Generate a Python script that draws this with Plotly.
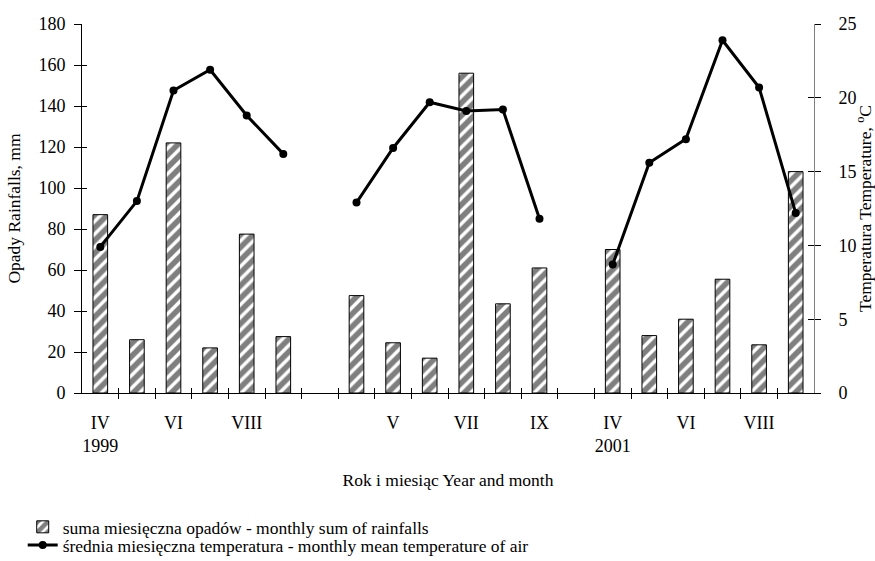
import plotly.graph_objects as go

# ---------------- data ----------------
months = ["IV", "V", "VI", "VII", "VIII", "IX"]
years = ["1999", "2000", "2001"]

rain_1999 = [87, 26, 122, 22, 77.5, 27.5]
rain_2000 = [47.5, 24.5, 17, 156, 43.5, 61]
rain_2001 = [70, 28, 36, 55.5, 23.5, 108]

temp_1999 = [9.9, 13.0, 20.5, 21.9, 18.8, 16.2]
temp_2000 = [12.9, 16.6, 19.7, 19.1, 19.2, 11.8]
temp_2001 = [8.7, 15.6, 17.2, 23.9, 20.7, 12.2]

rain_series = [rain_1999, rain_2000, rain_2001]
temp_series = [temp_1999, temp_2000, temp_2001]

bar_name = "suma miesięczna opadów - monthly sum of rainfalls"
line_name = "średnia miesięczna temperatura - monthly mean temperature of air"
x_title = "Rok i miesiąc Year and month"
y_title = "Opady Rainfalls, mm"
y2_title = "Temperatura Temperature, <sup>o</sup>C"

# ------------- build slots (one empty slot between years) -------------
slot_text, rain, temp = [], [], []
for yi, (yr, r, t) in enumerate(zip(years, rain_series, temp_series)):
    if yi > 0:
        slot_text.append("")
        rain.append(None)
        temp.append(None)
    for mi, (m, rv, tv) in enumerate(zip(months, r, t)):
        slot_text.append(m + ("<br>" + yr if mi == 0 else ""))
        rain.append(rv)
        temp.append(tv)

positions = list(range(len(slot_text)))
label_vals = positions[::2]
label_text = [slot_text[p] for p in label_vals]
boundaries = [p + 0.5 for p in positions[:-1]]
xrange = [-0.5, len(positions) - 0.5]

FONT = "Liberation Serif, Times New Roman, serif"
TITLE_FONT = dict(family=FONT, size=17.5, color="black")

fig = go.Figure()
fig.add_trace(go.Bar(
    x=positions, y=rain, width=0.4, name=bar_name, legend="legend",
    marker=dict(color="white",
                pattern=dict(shape="/", fgcolor="black", bgcolor="white",
                             size=9, solidity=0.62),
                line=dict(color="black", width=1)),
))
fig.add_trace(go.Scatter(
    x=positions, y=temp, yaxis="y2", name=line_name, mode="lines+markers",
    connectgaps=False, legend="legend2",
    line=dict(color="black", width=3),
    marker=dict(color="black", size=8),
))
# invisible helpers so that overlay axes (crossing tick marks) are drawn
fig.add_trace(go.Scatter(x=positions, y=rain, xaxis="x2", yaxis="y3",
                         mode="markers", marker=dict(opacity=0),
                         showlegend=False, hoverinfo="skip"))
fig.add_trace(go.Scatter(x=positions, y=temp, xaxis="x3", yaxis="y4",
                         mode="markers", marker=dict(opacity=0),
                         showlegend=False, hoverinfo="skip"))

legend_common = dict(xanchor="left", yanchor="middle", orientation="v",
                     bgcolor="rgba(0,0,0,0)",
                     font=dict(family=FONT, size=17.5, color="black"))

fig.update_layout(
    width=875, height=561,
    margin=dict(l=82, r=61, t=24, b=168, autoexpand=False),
    paper_bgcolor="white", plot_bgcolor="white",
    font=dict(family=FONT, size=17.5, color="black"),
    showlegend=True,
    legend=dict(x=-0.081, y=-0.363, **legend_common),
    legend2=dict(x=-0.081, y=-0.412, **legend_common),
    xaxis=dict(range=xrange, tickmode="array", tickvals=label_vals,
               ticktext=label_text, ticks="", showline=True,
               linecolor="black", linewidth=1, showgrid=False,
               zeroline=False, ticklabelstandoff=13, automargin=False,
               tickfont=dict(size=18),
               title=dict(text=x_title, standoff=18, font=TITLE_FONT)),
    xaxis2=dict(overlaying="x", range=xrange, tickmode="array",
                tickvals=boundaries, ticks="outside", ticklen=5,
                tickcolor="black", showticklabels=False, showline=False,
                showgrid=False, zeroline=False, automargin=False),
    xaxis3=dict(overlaying="x", range=xrange, tickmode="array",
                tickvals=boundaries, ticks="inside", ticklen=5,
                tickcolor="black", showticklabels=False, showline=False,
                showgrid=False, zeroline=False, automargin=False),
    yaxis=dict(range=[0, 180], dtick=20, ticks="outside", ticklen=7,
               tickcolor="black", showline=True, linecolor="black",
               showgrid=False, zeroline=False, ticklabelstandoff=5,
               automargin=False, tickfont=dict(size=18),
               title=dict(text=y_title, standoff=13, font=TITLE_FONT)),
    yaxis3=dict(overlaying="y", range=[0, 180], dtick=20, ticks="inside",
                ticklen=5, tickcolor="black", showticklabels=False,
                showline=False, showgrid=False, zeroline=False,
                automargin=False),
    yaxis2=dict(overlaying="y", side="right", range=[0, 25], dtick=5,
                ticks="outside", ticklen=6, tickcolor="black",
                showline=True, linecolor="#808080", showgrid=False,
                zeroline=False, ticklabelstandoff=14, automargin=False,
                tickfont=dict(size=18),
                title=dict(text=y2_title, standoff=5, font=TITLE_FONT)),
    yaxis4=dict(overlaying="y", side="right", range=[0, 25], dtick=5,
                ticks="inside", ticklen=6, tickcolor="black",
                showticklabels=False, showline=False, showgrid=False,
                zeroline=False, automargin=False),
)

fig.write_html(
    "out.html",
    config={"displayModeBar": False},
    post_script="document.body.style.margin='0';"
                "document.body.style.overflow='hidden';",
)
